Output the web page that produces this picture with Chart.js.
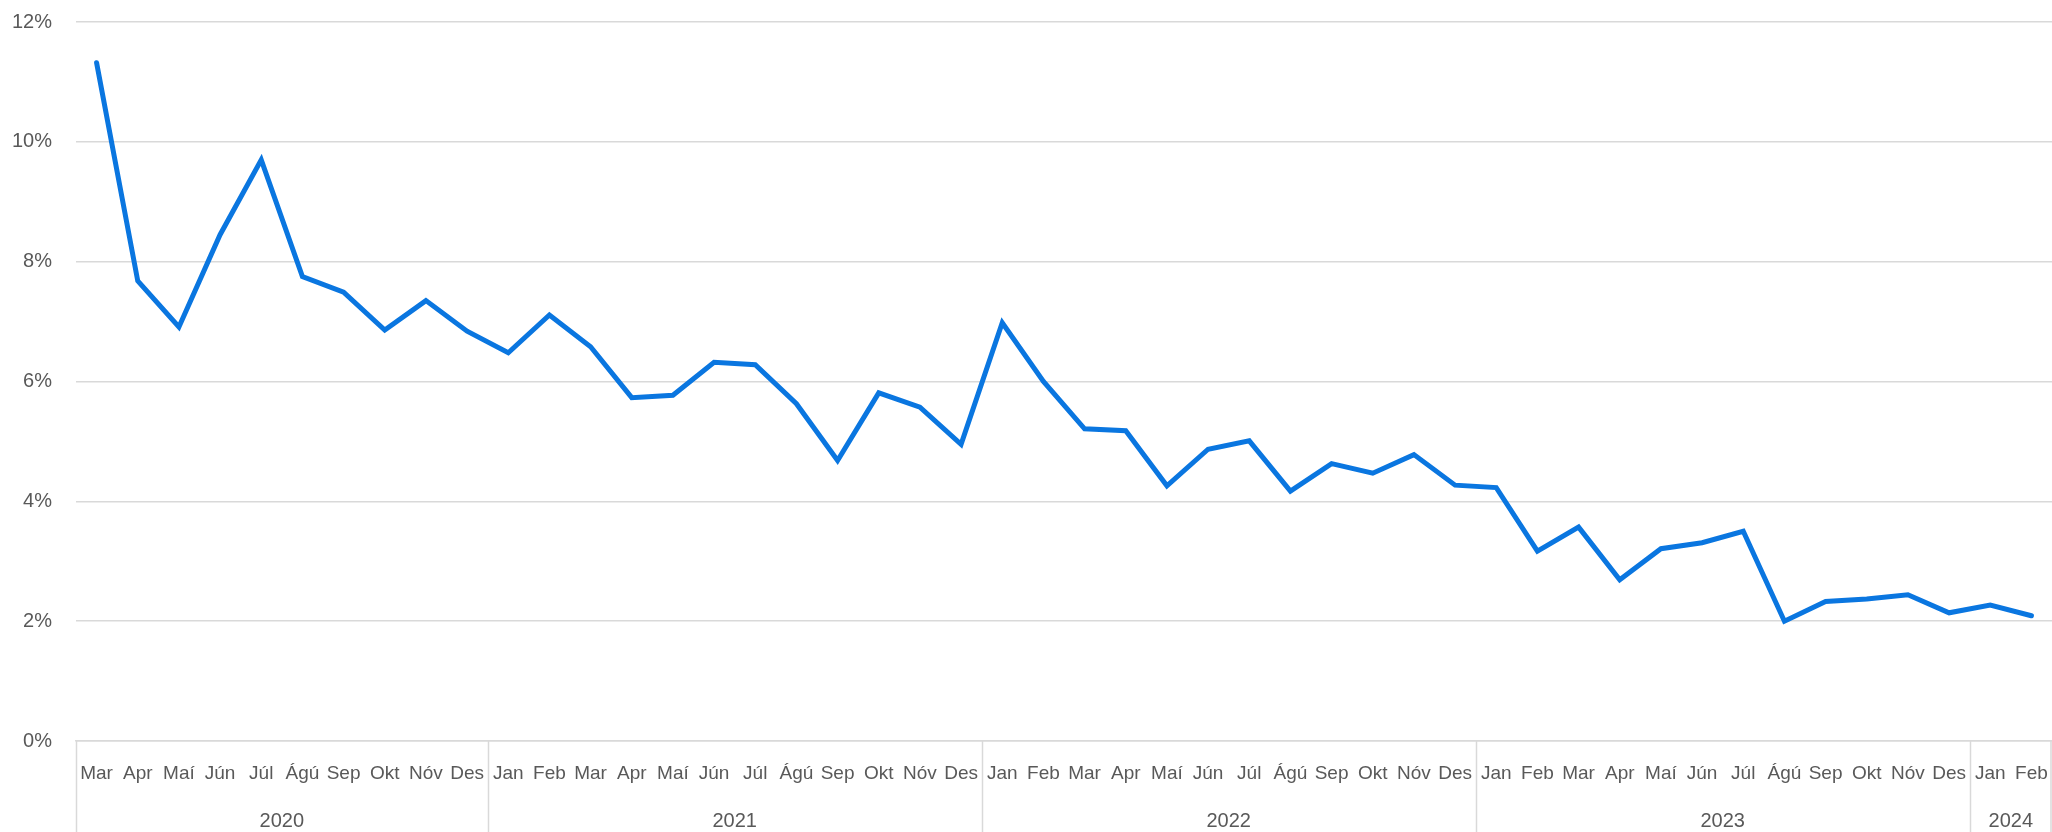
<!DOCTYPE html>
<html>
<head>
<meta charset="utf-8">
<script src="https://cdn.jsdelivr.net/npm/chart.js@4"></script>
<style>
  html, body { margin: 0; padding: 0; background: #fff; }
  canvas { display: block; }
</style>
</head>
<body>
<canvas id="myChart" width="2052" height="832"></canvas>
<script>
// month labels, Mar 2020 - Feb 2024
const months = [
  'Mar','Apr','Maí','Jún','Júl','Ágú','Sep','Okt','Nóv','Des',
  'Jan','Feb','Mar','Apr','Maí','Jún','Júl','Ágú','Sep','Okt','Nóv','Des',
  'Jan','Feb','Mar','Apr','Maí','Jún','Júl','Ágú','Sep','Okt','Nóv','Des',
  'Jan','Feb','Mar','Apr','Maí','Jún','Júl','Ágú','Sep','Okt','Nóv','Des',
  'Jan','Feb'
];
const years = ['2020', '2021', '2022', '2023', '2024'];
const monthsPerYear = [10, 12, 12, 12, 2];

// percent values
const values = [
  11.32, 7.68, 6.91, 8.45, 9.70, 7.75, 7.49, 6.86, 7.35, 6.84,
  6.48, 7.11, 6.58, 5.73, 5.77, 6.32, 6.28, 5.63, 4.68, 5.81, 5.57, 4.95,
  6.98, 6.00, 5.21, 5.18, 4.26, 4.87, 5.01, 4.17, 4.63, 4.47, 4.78, 4.27,
  4.23, 3.17, 3.57, 2.69, 3.21, 3.31, 3.50, 2.00, 2.33, 2.37, 2.44, 2.14,
  2.27, 2.09
];

const yTicks = [0, 2, 4, 6, 8, 10, 12];

const textColor = '#595959';
const gridColor = '#d9d9d9';
const fontFamily = '"Liberation Sans", Arial, sans-serif';

// year row under the month labels, with separators
const yearGroups = {
  id: 'yearGroups',
  afterDraw(chart) {
    const ctx = chart.ctx;
    const x = chart.scales.x;
    const half = (x.getPixelForValue(1) - x.getPixelForValue(0)) / 2;
    const top = chart.chartArea.bottom;
    const bottom = chart.height;
    ctx.save();
    ctx.strokeStyle = gridColor;
    ctx.lineWidth = 1.5;
    ctx.fillStyle = textColor;
    ctx.font = '20px ' + fontFamily;
    ctx.textAlign = 'center';
    ctx.textBaseline = 'middle';
    let start = 0;
    const edges = [];
    years.forEach((yr, i) => {
      const end = start + monthsPerYear[i] - 1;
      const left = x.getPixelForValue(start) - half;
      const right = x.getPixelForValue(end) + half;
      if (i === 0) edges.push(left);
      edges.push(right);
      ctx.fillText(yr, (left + right) / 2, 821);
      start = end + 1;
    });
    edges.forEach(e => {
      const px = Math.min(Math.round(e) + 0.5, chart.width - 1);
      ctx.beginPath();
      ctx.moveTo(px, top);
      ctx.lineTo(px, bottom);
      ctx.stroke();
    });
    ctx.restore();
  }
};

const ctx = document.getElementById('myChart').getContext('2d');
new Chart(ctx, {
  type: 'line',
  data: {
    labels: months,
    datasets: [{
      data: values,
      borderColor: '#0a76e0',
      borderWidth: 5,
      pointRadius: 0,
      fill: false,
      tension: 0,
      borderJoinStyle: 'miter',
      borderCapStyle: 'round'
    }]
  },
  options: {
    responsive: false,
    animation: false,
    layout: { padding: { top: 22, right: 0, left: 0, bottom: 0 } },
    plugins: {
      legend: { display: false },
      tooltip: { enabled: false }
    },
    scales: {
      x: {
        type: 'category',
        offset: true,
        // invisible ticks only push the labels down
        grid: {
          display: true,
          drawOnChartArea: false,
          drawTicks: true,
          tickLength: 21,
          color: 'rgba(0,0,0,0)',
          tickColor: 'rgba(0,0,0,0)'
        },
        border: { display: true, color: gridColor, width: 1.5 },
        ticks: {
          autoSkip: false,
          maxRotation: 0,
          minRotation: 0,
          padding: 0,
          color: textColor,
          font: { family: fontFamily, size: 19 }
        },
        afterFit(scale) { scale.height = 91; }
      },
      y: {
        min: 0,
        max: 12,
        afterBuildTicks(scale) { scale.ticks = yTicks.map(v => ({ value: v })); },
        grid: {
          color: gridColor,
          lineWidth: 1.5,
          drawTicks: true,
          tickLength: 24,
          tickColor: 'rgba(0,0,0,0)'
        },
        border: { display: false },
        ticks: {
          padding: 0,
          color: textColor,
          font: { family: fontFamily, size: 20 },
          callback: v => v + '%'
        },
        afterFit(scale) { scale.width = 76; }
      }
    }
  },
  plugins: [yearGroups]
});
</script>
</body>
</html>
